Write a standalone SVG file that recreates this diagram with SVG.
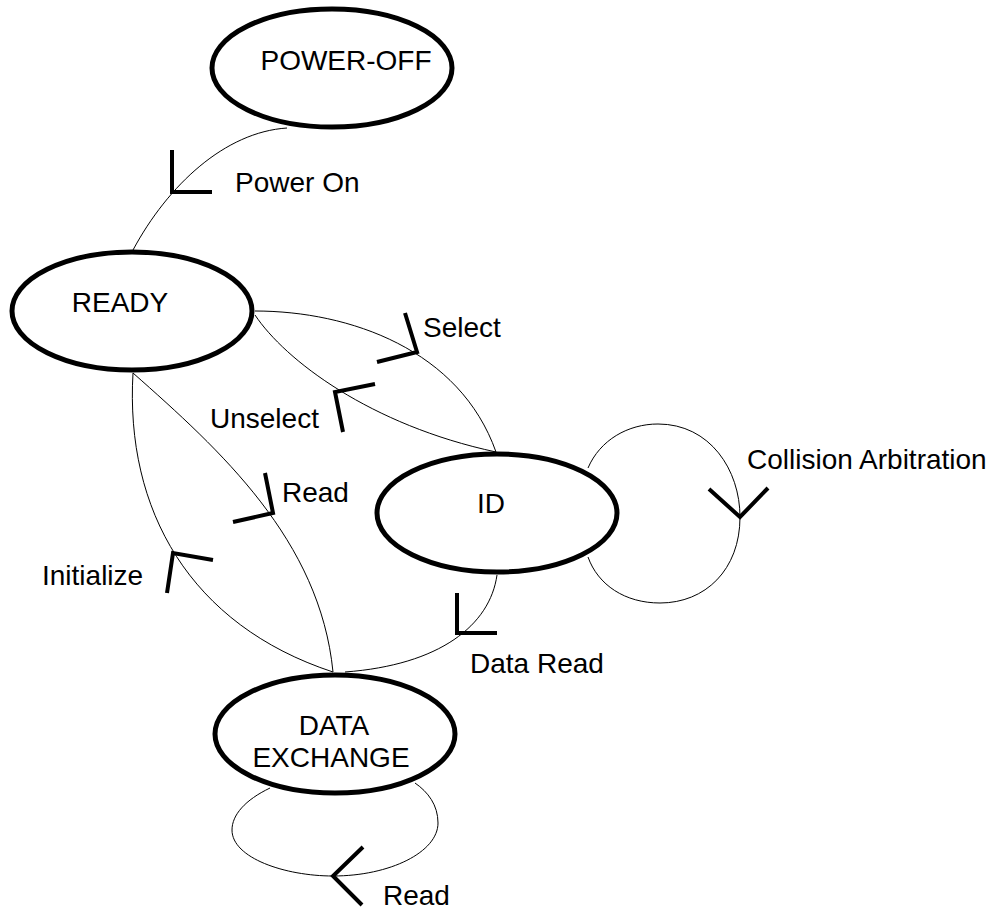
<svg xmlns="http://www.w3.org/2000/svg" width="994" height="911" viewBox="0 0 994 911">
<style>
.node{fill:#fff;stroke:#000;stroke-width:5}
.edge{fill:none;stroke:#000;stroke-width:1}
.arrow{fill:none;stroke:#000;stroke-width:4;stroke-linejoin:miter;stroke-linecap:butt}
text{font-family:"Liberation Sans",Arial,sans-serif;font-size:28px;fill:#000}
.c{text-anchor:middle}
</style>
<rect width="994" height="911" fill="#fff"/>
<g id="connectors">
<path class="edge" d="M287,128 C225,132 168,185 133,250"/>
<polyline class="arrow" points="172,150 172,192 212,192"/>
<text x="235" y="192">Power On</text>
<path class="edge" d="M255,311 C350,311 460,350 496,452"/>
<polyline class="arrow" points="405,313 417,352 377,362"/>
<text x="423" y="337">Select</text>
<path class="edge" d="M255,315 C285,360 370,425 496,452"/>
<polyline class="arrow" points="375,384 335,392 343,432"/>
<text x="210" y="428">Unselect</text>
<path class="edge" d="M133,373 C125,510 190,625 333,672"/>
<polyline class="arrow" points="213,560 173,553 167,593"/>
<text x="42" y="585">Initialize</text>
<path class="edge" d="M133,373 C220,450 320,540 333,672"/>
<polyline class="arrow" points="265,473 273,513 233,522"/>
<text x="282" y="502">Read</text>
<path class="edge" d="M497,575 C490,625 440,665 345,672"/>
<polyline class="arrow" points="457,593 457,633 497,633"/>
<text x="470" y="673">Data Read</text>
<path class="edge" d="M588,468 C600,440 628,424 658,424 C710,424 740,470 740,517 C740,570 705,603 660,603 C625,603 598,585 588,557"/>
<polyline class="arrow" points="709,489 740,517 768,488"/>
<text x="747" y="469">Collision Arbitration</text>
<path class="edge" d="M270,788 C245,800 232,815 232,830 C232,858 285,876 333,876 C390,876 438,852 438,823 C438,805 428,792 415,783"/>
<polyline class="arrow" points="363,847 333,876 362,905"/>
<text x="383" y="905">Read</text>
</g>
<g id="power-off">
<ellipse class="node" cx="332" cy="68" rx="120" ry="59"/>
<text class="c" x="346" y="70">POWER-OFF</text>
</g>
<g id="ready">
<ellipse class="node" cx="132" cy="311" rx="120" ry="59"/>
<text class="c" x="120" y="312">READY</text>
</g>
<g id="id">
<ellipse class="node" cx="497" cy="513" rx="120" ry="59"/>
<text class="c" x="491" y="513">ID</text>
</g>
<g id="data-exchange">
<ellipse class="node" cx="335" cy="734" rx="120" ry="59"/>
<text class="c" x="334" y="735">DATA</text>
<text class="c" x="331" y="767">EXCHANGE</text>
</g>
</svg>
